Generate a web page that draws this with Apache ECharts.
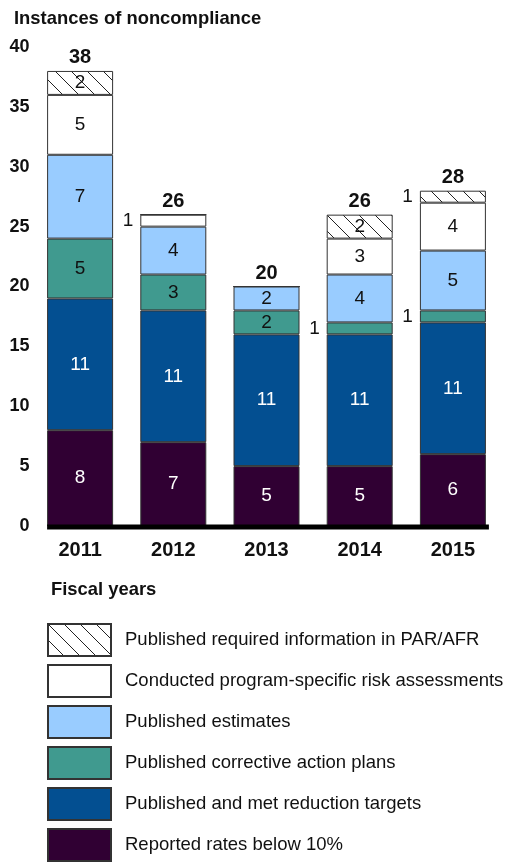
<!DOCTYPE html>
<html>
<head>
<meta charset="utf-8">
<script src="https://cdn.jsdelivr.net/npm/echarts@6/dist/echarts.min.js"></script>
<style>
  html, body { margin: 0; padding: 0; background: #fff; }
  #chart { width: 507px; height: 862px; }
</style>
</head>
<body>
<div id="chart"></div>
<script>
var years = ["2011", "2012", "2013", "2014", "2015"];
var yTicks = [0, 5, 10, 15, 20, 25, 30, 35, 40];

// bottom to top of each stack
var reportedRates = [8, 7, 5, 5, 6];
var reductionTargets = [11, 11, 11, 11, 11];
var correctivePlans = [5, 3, 2, 1, 1];
var publishedEstimates = [7, 4, 2, 4, 5];
var riskAssessments = [5, 1, 0, 3, 4];
var requiredInfo = [2, 0, 0, 2, 1];

var names = [
  "Reported rates below 10%",
  "Published and met reduction targets",
  "Published corrective action plans",
  "Published estimates",
  "Conducted program-specific risk assessments",
  "Published required information in PAR/AFR"
];

var FONT = "'Liberation Sans', Arial, sans-serif";

// hatch pattern for the top segment
function hatch() {
  var s = 16;
  var c = document.createElement("canvas");
  c.width = s; c.height = s;
  var ctx = c.getContext("2d");
  ctx.fillStyle = "#fff";
  ctx.fillRect(0, 0, s, s);
  ctx.strokeStyle = "#222";
  ctx.lineWidth = 1;
  ctx.beginPath();
  ctx.moveTo(-2, -2); ctx.lineTo(s + 2, s + 2);
  ctx.moveTo(-2 - s, -2); ctx.lineTo(2, s + 2);
  ctx.moveTo(s - 2, -2); ctx.lineTo(2 * s + 2, s + 2);
  ctx.stroke();
  return { image: c, repeat: "repeat" };
}

var totals = years.map(function (y, i) {
  return reportedRates[i] + reductionTargets[i] + correctivePlans[i] +
    publishedEstimates[i] + riskAssessments[i] + requiredInfo[i];
});

function makeSeries(name, data, color, textColor) {
  return {
    name: name,
    type: "bar",
    stack: "all",
    barWidth: 66,
    itemStyle: { color: color, borderColor: "#333", borderWidth: 1 },
    data: data.map(function (v) {
      var item = { value: v };
      if (v === 1) {
        item.label = { position: "left", distance: 7, color: "#111" };
      }
      return item;
    }),
    label: {
      show: true,
      position: "inside",
      color: textColor,
      fontFamily: FONT,
      fontSize: 19,
      formatter: function (p) { return p.value ? String(p.value) : ""; }
    }
  };
}

var series = [
  makeSeries(names[0], reportedRates, "#300033", "#fff"),
  makeSeries(names[1], reductionTargets, "#034f91", "#fff"),
  makeSeries(names[2], correctivePlans, "#409a8f", "#111"),
  makeSeries(names[3], publishedEstimates, "#99ccff", "#111"),
  makeSeries(names[4], riskAssessments, "#ffffff", "#111"),
  makeSeries(names[5], requiredInfo, hatch(), "#111"),
  {
    name: "total",
    type: "bar",
    stack: "all",
    barWidth: 66,
    silent: true,
    itemStyle: { color: "transparent", borderWidth: 0 },
    data: years.map(function () { return 0; }),
    label: {
      show: true,
      position: "top",
      distance: 3,
      color: "#111",
      fontFamily: FONT,
      fontWeight: "bold",
      fontSize: 20,
      formatter: function (p) { return totals[p.dataIndex]; }
    }
  }
];

var chart = echarts.init(document.getElementById("chart"));
chart.setOption({
  animation: false,
  textStyle: { fontFamily: FONT },
  title: [
    {
      text: "Instances of noncompliance",
      left: 9, top: 5,
      textStyle: { fontFamily: FONT, fontSize: 18.4, fontWeight: "bold", color: "#111" }
    },
    {
      text: "Fiscal years",
      left: 46, top: 576,
      textStyle: { fontFamily: FONT, fontSize: 18.4, fontWeight: "bold", color: "#111" }
    }
  ],
  grid: { left: 33.5, right: 7.5, top: 47, bottom: 336 },
  legend: {
    orient: "vertical",
    left: 47, top: 623,
    height: 300,
    padding: 0,
    itemWidth: 63, itemHeight: 32,
    itemGap: 7,
    icon: "rect",
    selectedMode: false,
    data: names.slice().reverse(),
    textStyle: { fontFamily: FONT, fontSize: 18.5, color: "#111", padding: [0, 0, 0, 9] }
  },
  xAxis: {
    type: "category",
    data: years,
    axisLine: { show: false },
    axisTick: { show: false },
    axisLabel: {
      margin: 14,
      color: "#111",
      fontFamily: FONT,
      fontSize: 20,
      fontWeight: "bold"
    }
  },
  yAxis: {
    type: "value",
    min: yTicks[0],
    max: yTicks[yTicks.length - 1],
    interval: yTicks[1] - yTicks[0],
    splitLine: { show: false },
    axisLine: { show: false },
    axisTick: { show: false },
    axisLabel: {
      margin: 4,
      color: "#111",
      fontFamily: FONT,
      fontSize: 18,
      fontWeight: "bold"
    }
  },
  series: series
});

// thick baseline spanning the bars
var first = chart.convertToPixel({ xAxisIndex: 0 }, years[0]);
var last = chart.convertToPixel({ xAxisIndex: 0 }, years[years.length - 1]);
var zero = chart.convertToPixel({ yAxisIndex: 0 }, 0);
chart.setOption({
  graphic: [{
    type: "line",
    z: 10,
    shape: { x1: first - 33, y1: zero + 1, x2: last + 36, y2: zero + 1 },
    style: { stroke: "#000", lineWidth: 5 }
  }]
});
</script>
</body>
</html>
